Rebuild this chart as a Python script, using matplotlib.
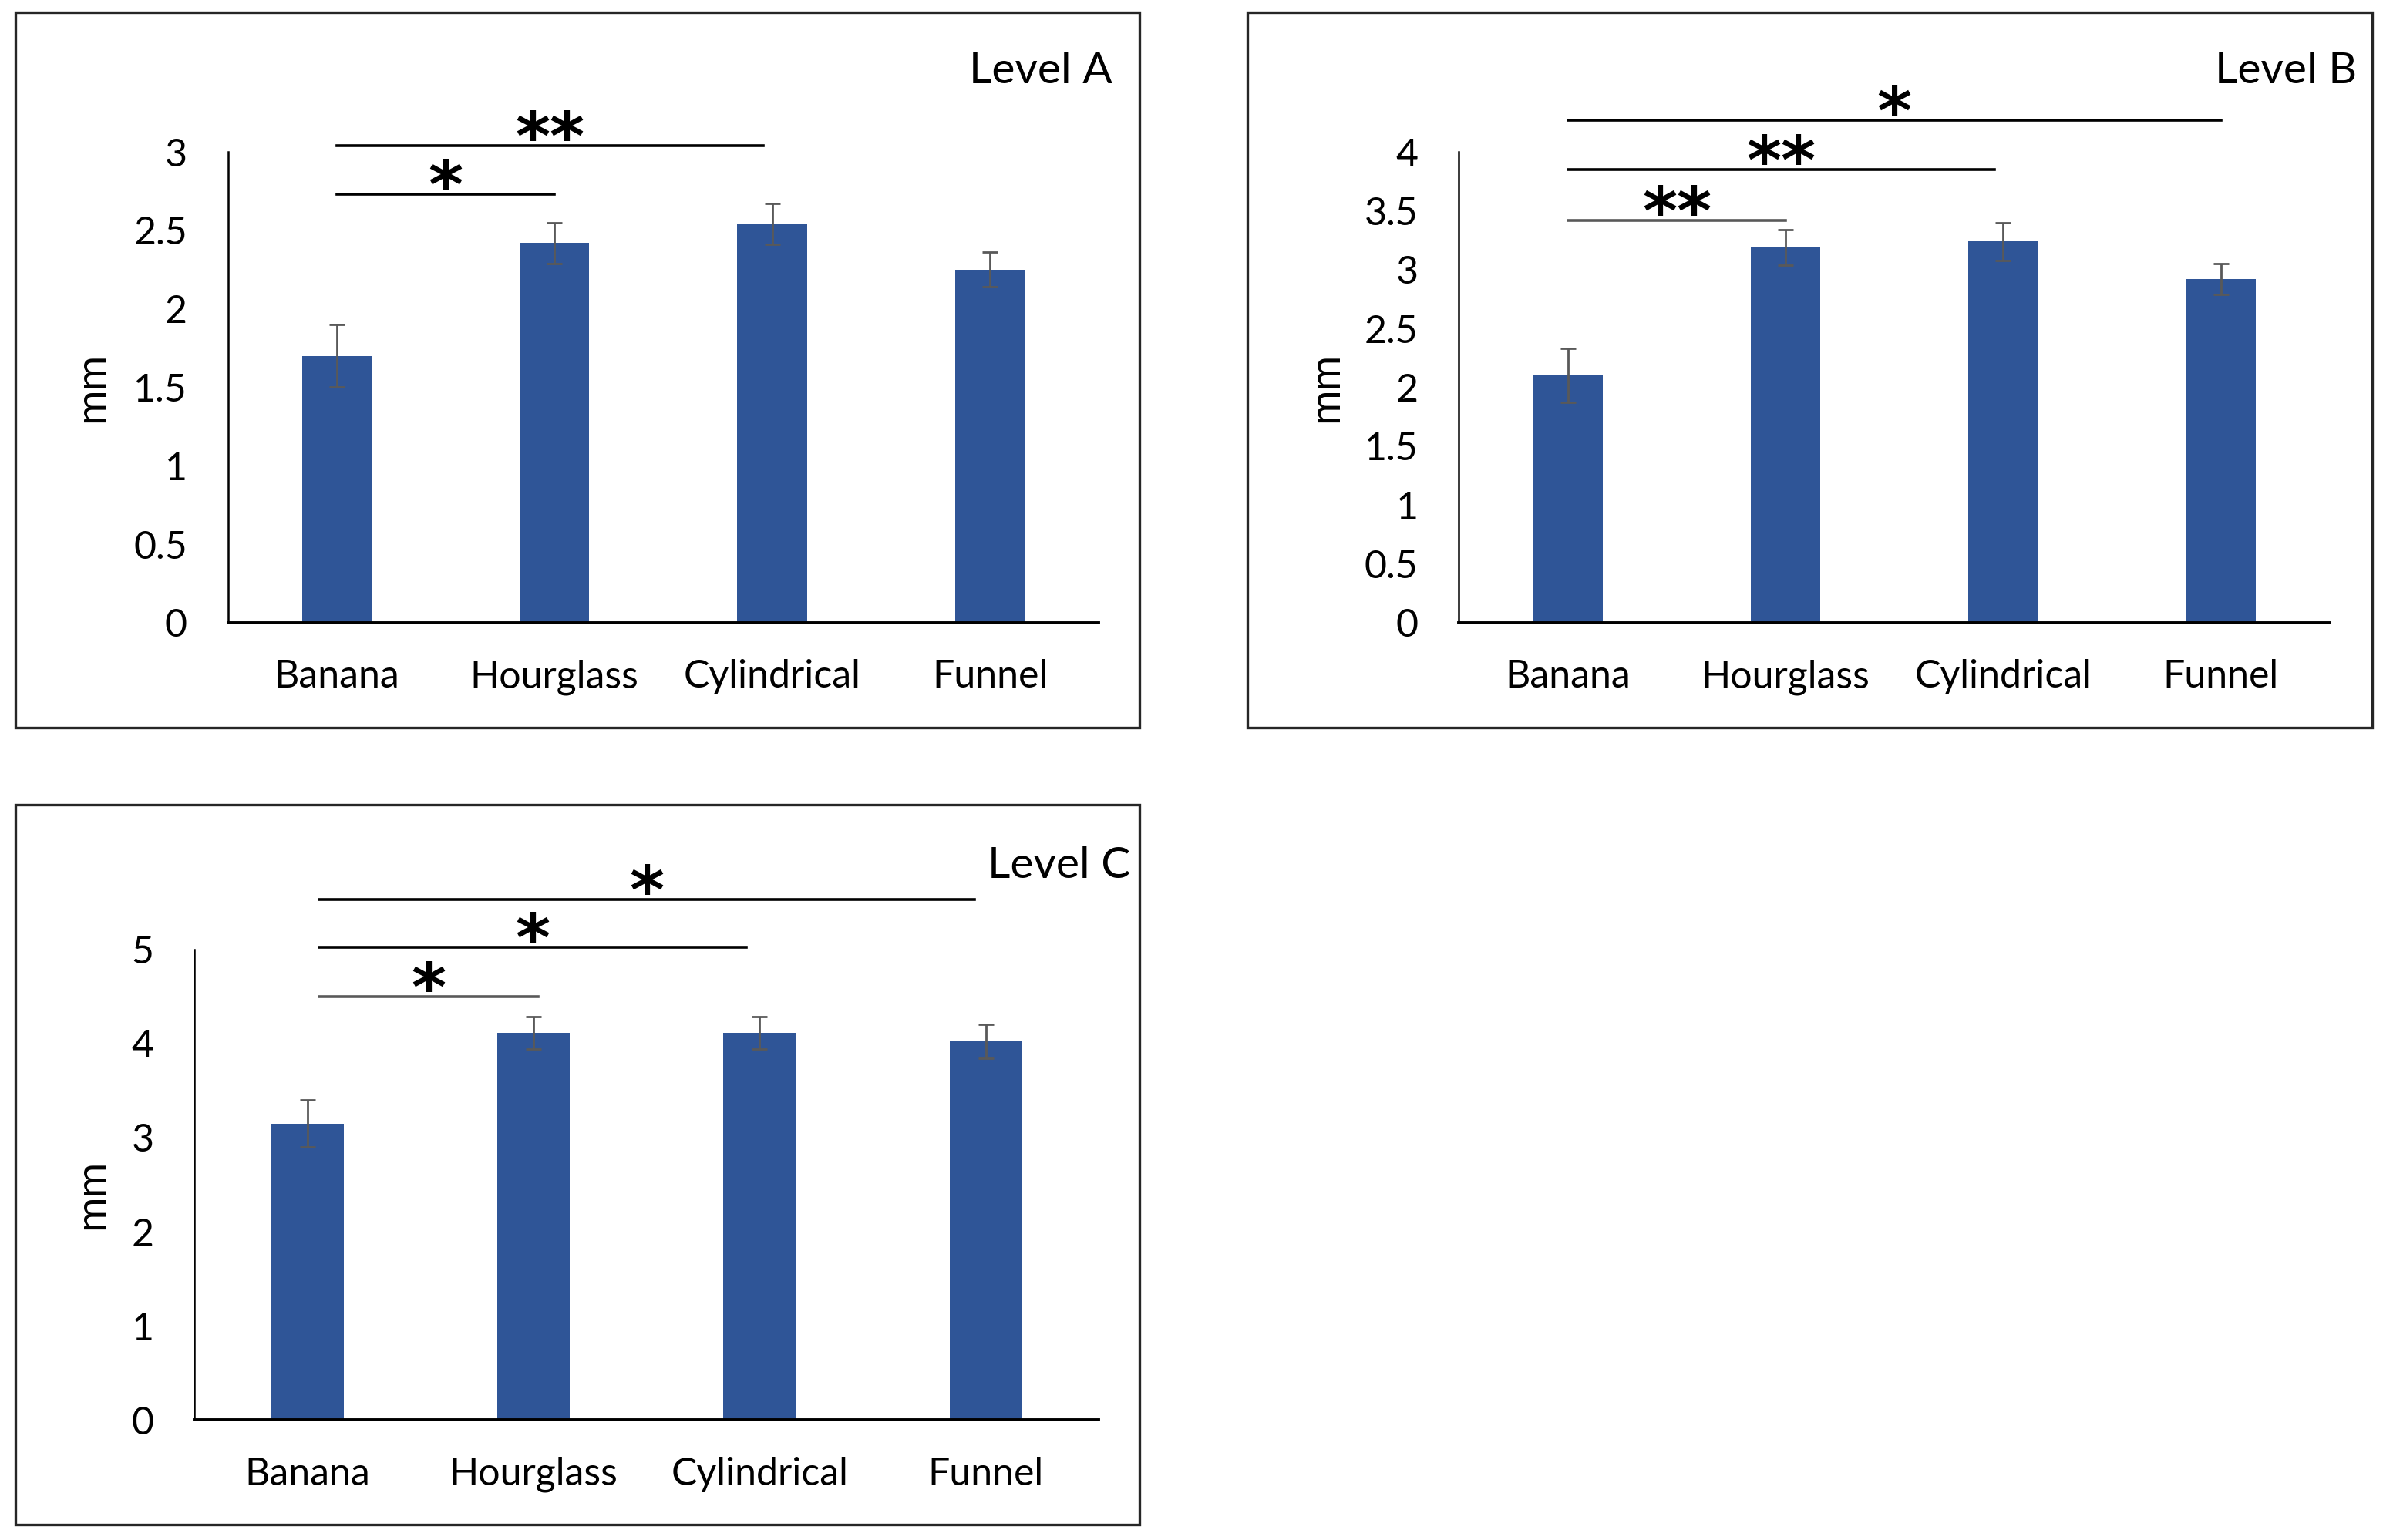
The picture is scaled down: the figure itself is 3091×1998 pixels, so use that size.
import matplotlib.pyplot as plt
from matplotlib.patches import Rectangle

plt.rcParams['font.family'] = ['Lato', 'DejaVu Sans']

shapes = ['Banana', 'Hourglass', 'Cylindrical', 'Funnel']

# Level A
mean_a = [1.70, 2.42, 2.54, 2.25]
err_a = [0.20, 0.13, 0.13, 0.11]
# Level B
mean_b = [2.10, 3.19, 3.24, 2.92]
err_b = [0.23, 0.15, 0.16, 0.13]
# Level C
mean_c = [3.15, 4.11, 4.11, 4.02]
err_c = [0.25, 0.17, 0.17, 0.18]

# significance bars: (x start, x end, y, label, colour)
sig_a = [(0.0, 1.96, 3.04, '**', 'black'), (0.0, 1.0, 2.73, '*', 'black')]
sig_b = [(0.0, 3.0, 4.27, '*', 'black'), (0.0, 1.96, 3.85, '**', 'black'),
         (0.0, 1.0, 3.42, '**', '#595959')]
sig_c = [(0.05, 2.95, 5.53, '*', 'black'), (0.05, 1.94, 5.02, '*', 'black'),
         (0.05, 1.02, 4.50, '*', '#595959')]

W, H = 1568, 1014  # layout reference grid
fig = plt.figure(figsize=(15.455, 9.99), dpi=200)

def frac_box(x0, x1, y0, y1):
    return [x0 / W, 1 - y1 / H, (x1 - x0) / W, (y1 - y0) / H]

panels = [
    ('Level A', mean_a, err_a, sig_a, 3, 0.5, frac_box(150, 723, 100, 410),
     frac_box(10, 750, 8, 479), (732, 47), (-0.133, 0.5)),
    ('Level B', mean_b, err_b, sig_b, 4, 0.5, frac_box(960, 1533, 100, 410),
     frac_box(821, 1561, 8, 479), (1551, 47), (-0.130, 0.5)),
    ('Level C', mean_c, err_c, sig_c, 5, 1, frac_box(128, 723, 625, 935),
     frac_box(10, 750, 530, 1004), (744, 570), (-0.091, 0.48)),
]

for title, mean, err, sig, ymax, step, axbox, frame, tpos, lpos in panels:
    fig.patches.append(Rectangle((frame[0], frame[1]), frame[2], frame[3],
                                 transform=fig.transFigure, fill=False,
                                 edgecolor='#262626', linewidth=1.2))
    ax = fig.add_axes(axbox)
    x = range(len(shapes))
    ax.bar(x, mean, width=0.32, color='#2F5597', zorder=2)
    ax.errorbar(x, mean, yerr=err, fmt='none', ecolor='#595959',
                elinewidth=1.0, capsize=3.5, capthick=1.0, zorder=3)
    ax.set_xlim(-0.5, 3.5)
    ax.set_ylim(0, ymax)
    ticks = [i * step for i in range(int(ymax / step) + 1)]
    ax.set_yticks(ticks)
    ax.set_yticklabels(['%g' % t for t in ticks])
    ax.set_xticks(list(x))
    ax.set_xticklabels(shapes)
    ax.tick_params(axis='both', length=0, labelsize=18)
    ax.tick_params(axis='y', pad=19)
    ax.tick_params(axis='x', pad=17)
    for s in ['top', 'right']:
        ax.spines[s].set_visible(False)
    ax.spines['left'].set_linewidth(0.9)
    ax.spines['bottom'].set_linewidth(1.4)
    ax.set_ylabel('mm', fontsize=20)
    ax.yaxis.set_label_coords(*lpos)
    for xs, xe, y, lab, col in sig:
        ax.plot([xs, xe], [y, y], color=col, linewidth=1.3, clip_on=False)
        ax.annotate(lab, xy=((xs + xe) / 2, y), xytext=(0, -6.5),
                    textcoords='offset points', ha='center', va='baseline',
                    fontsize=31, fontweight='bold', family='DejaVu Sans',
                    annotation_clip=False)
    fig.text(tpos[0] / W, 1 - tpos[1] / H, title, ha='right', va='center',
             fontsize=20.5)

fig.savefig('out.png', dpi=200)
